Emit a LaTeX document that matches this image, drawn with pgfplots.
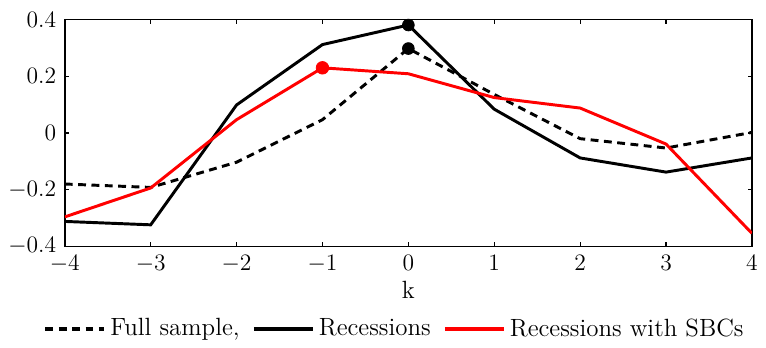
\documentclass[border=0pt]{standalone}
\usepackage{pgfplots}
\pgfplotsset{compat=1.18}
\begin{document}
\fontsize{12.7}{14}\selectfont
\begin{tikzpicture}
\begin{axis}[
  name=ax,
  scale only axis,
  width=350pt, height=115.5pt,
  xmin=-4, xmax=4, ymin=-0.4, ymax=0.4,
  xtick={-4,-3,...,4},
  ytick={-0.4,-0.2,0,0.2,0.4},
  yticklabels={$-0.4$,$-0.2$,$0$,$0.2$,$0.4$},
  tick align=inside,
  major tick length=2pt,
  axis line style={line width=0.8pt},
  every tick/.style={line width=0.6pt, black},
  xlabel={k},
  xlabel style={yshift=4pt},
  ticklabel style={font=\fontsize{12.7}{14}\selectfont},
  label style={font=\fontsize{12.7}{14}\selectfont},
  legend columns=-1,
  legend style={at={(axis description cs:0.481,-0.365)}, anchor=center, draw=none, fill=none,
    font=\fontsize{12.7}{14}\selectfont, /tikz/every even column/.append style={column sep=4pt}},
  legend image code/.code={\draw[#1, line width=2.4pt] (0cm,0cm) -- (1.05cm,0cm);},
]
\addplot[black, line width=1.5pt, dash pattern=on 4pt off 2.8pt] coordinates {
(-4,-0.180) (-3,-0.192) (-2,-0.103) (-1,0.047) (0,0.298) (1,0.136) (2,-0.020) (3,-0.053) (4,0.002)};
\addlegendentry{Full sample,}
\addplot[black, line width=1.5pt] coordinates {
(-4,-0.312) (-3,-0.324) (-2,0.099) (-1,0.312) (0,0.381) (1,0.084) (2,-0.088) (3,-0.138) (4,-0.088)};
\addlegendentry{Recessions}
\addplot[red, line width=1.5pt] coordinates {
(-4,-0.296) (-3,-0.194) (-2,0.047) (-1,0.230) (0,0.209) (1,0.125) (2,0.088) (3,-0.039) (4,-0.354)};
\addlegendentry{Recessions with SBCs}
\addplot[forget plot, only marks, mark=*, black, mark size=3pt] coordinates {(0,0.381) (0,0.298)};
\addplot[forget plot, only marks, mark=*, red, mark size=3.2pt] coordinates {(-1,0.230)};
\end{axis}
\path[use as bounding box] ([xshift=-30pt,yshift=-49pt]ax.south west) rectangle ([xshift=3pt,yshift=10pt]ax.north east);
\end{tikzpicture}
\end{document}
